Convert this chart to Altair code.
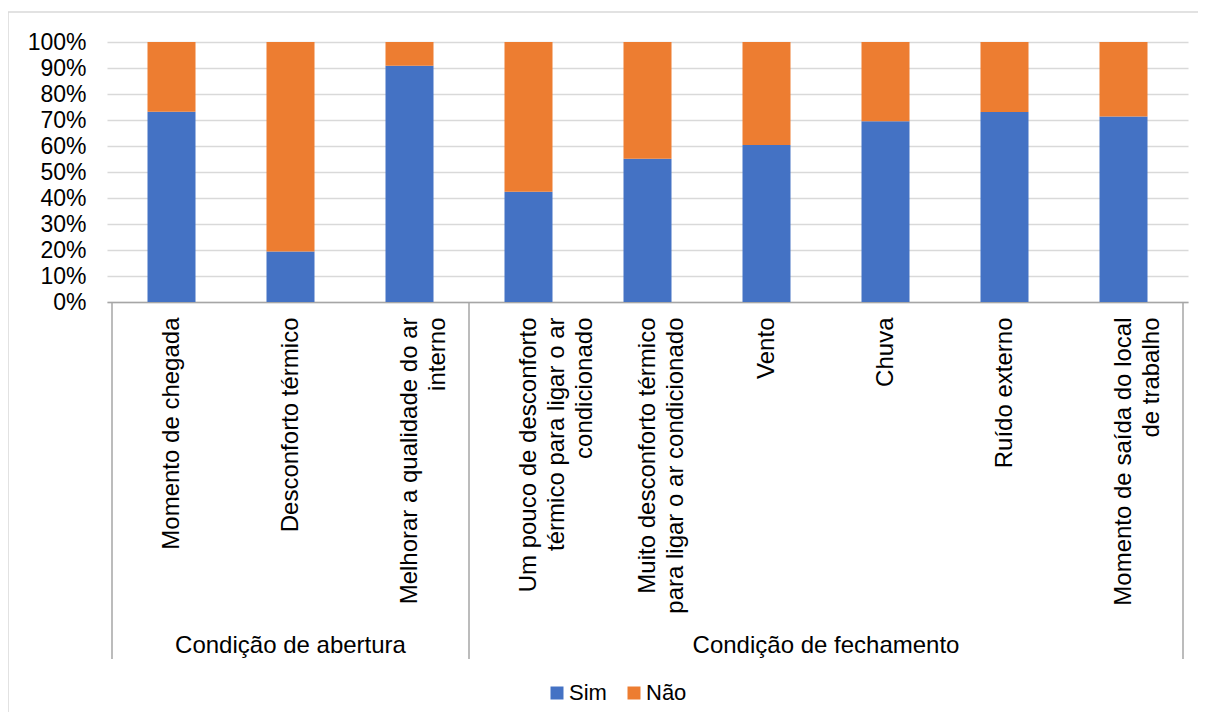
import json
import altair as alt
import pandas as pd

# ---- data ----
categories = [
    "Momento de chegada",
    "Desconforto térmico",
    "Melhorar a qualidade do ar|interno",
    "Um pouco de desconforto|térmico para ligar o ar|condicionado",
    "Muito  desconforto térmico|para ligar o ar condicionado",
    "Vento",
    "Chuva",
    "Ruído externo",
    "Momento de saída do local|de trabalho",
]
groups = ["Condição de abertura"] * 3 + ["Condição de fechamento"] * 6
sim = [73.2, 19.4, 90.9, 42.4, 55.1, 60.4, 69.5, 73.1, 71.3]
nao = [26.8, 80.6, 9.1, 57.6, 44.9, 39.6, 30.5, 26.9, 28.7]
series = ["Sim", "Não"]
colors = ["#4472C4", "#ED7D31"]
y_ticks = list(range(0, 101, 10))

FONT = "Liberation Sans"

rows = []
for i, (c, g) in enumerate(zip(categories, groups)):
    rows.append({"idx": i, "cat": c, "grupo": g, "resp": series[0], "valor": sim[i], "ord": 0})
    rows.append({"idx": i, "cat": c, "grupo": g, "resp": series[1], "valor": nao[i], "ord": 1})
df = pd.DataFrame(rows)

df_cat = pd.DataFrame({"idx": list(range(len(categories))), "grupo": groups})

# group boundaries (between categories)
bounds = []
for g in dict.fromkeys(groups):
    members = [i for i, gg in enumerate(groups) if gg == g]
    bounds.append(members[0] - 0.5)
bounds.append(len(categories) - 0.5)
df_sep = pd.DataFrame({"pos": bounds})

label_expr = "split(" + json.dumps(categories, ensure_ascii=False) + "[datum.value], '|')"

xscale = alt.Scale(domain=[-0.5, len(categories) - 0.5], nice=False, zero=False)

bars = alt.Chart(df).mark_bar(size=48).encode(
    x=alt.X(
        "idx:Q",
        scale=xscale,
        axis=alt.Axis(
            values=list(range(len(categories))),
            labelExpr=label_expr,
            labelAngle=270,
            labelAlign="right",
            labelBaseline="middle",
            labelFontSize=24,
            labelLineHeight=28,
            labelPadding=15,
            labelLimit=600,
            labelOverlap=False,
            labelFlush=False,
            labelColor="black",
            ticks=False,
            tickSize=0,
            grid=False,
            domainColor="#a6a6a6",
            domainWidth=1.5,
            title=None,
        ),
    ),
    y=alt.Y(
        "valor:Q",
        stack="zero",
        scale=alt.Scale(domain=[0, 100], nice=False),
        axis=alt.Axis(
            values=y_ticks,
            labelExpr="datum.value + '%'",
            ticks=False,
            tickSize=0,
            domain=False,
            gridColor="#d9d9d9",
            gridWidth=1.5,
            labelFontSize=23,
            labelPadding=21,
            labelColor="black",
            title=None,
        ),
    ),
    color=alt.Color(
        "resp:N",
        scale=alt.Scale(domain=series, range=colors),
        legend=alt.Legend(
            orient="none",
            legendX=439,
            legendY=640,
            direction="horizontal",
            title=None,
            symbolType="square",
            symbolSize=169,
            symbolStrokeWidth=0,
            labelFontSize=22,
            labelColor="black",
            columnPadding=16,
            labelOffset=1,
        ),
    ),
    order=alt.Order("ord:Q"),
)

seps = alt.Chart(df_sep).mark_rule(color="#a6a6a6", strokeWidth=1.5).encode(
    x=alt.X("pos:Q", scale=xscale),
    y=alt.value(260),
    y2=alt.value(617),
)

group_text = alt.Chart(df_cat).mark_text(fontSize=24, baseline="middle", color="black").encode(
    x=alt.X("mean(idx):Q", scale=xscale),
    y=alt.value(604),
    text="grupo:N",
)

dummy = pd.DataFrame({"k": [0]})
border_top = alt.Chart(dummy).mark_rule(color="#d9d9d9", strokeWidth=1.5).encode(
    x=alt.value(-99), x2=alt.value(1091), y=alt.value(-30)
)
border_left = alt.Chart(dummy).mark_rule(color="#d9d9d9", strokeWidth=1.5).encode(
    x=alt.value(-99), y=alt.value(-30), y2=alt.value(672)
)

chart = (
    alt.layer(border_top, border_left, bars, seps, group_text)
    .properties(
        width=1081,
        height=260,
        padding={"left": 99, "top": 34, "right": 10, "bottom": 410},
        autosize=alt.AutoSizeParams(type="none"),
        background="white",
    )
    .configure(font=FONT)
    .configure_view(stroke=None)
)

chart.save("out.html", embed_options={"renderer": "svg", "actions": False})
